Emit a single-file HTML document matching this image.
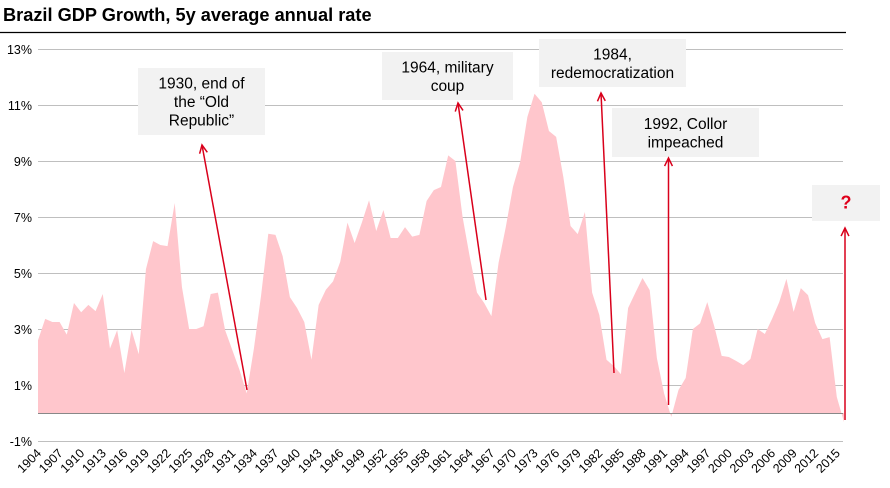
<!DOCTYPE html>
<html><head><meta charset="utf-8"><style>
html,body{margin:0;padding:0;background:#fff;}
svg{display:block;font-family:"Liberation Sans",Arial,sans-serif;}
</style></head><body>
<svg id="chart" width="890" height="488" viewBox="0 0 890 488">
<text x="3" y="21" font-size="18.2" font-weight="bold" fill="#000">Brazil GDP Growth, 5y average annual rate</text>
<line x1="0" y1="32.5" x2="846" y2="32.5" stroke="#000" stroke-width="1.3"/>
<g id="grid"></g>
<g id="yticks"></g>
<path id="area" fill="#ffc6cc"/>
<line id="zero" stroke="#888" stroke-width="1"/>
<g id="xticks"></g>
<g id="annots"></g>
</svg>
<script>
const years = [];
for (let y = 1904; y <= 2016; y++) years.push(y);
const growth = [2.6,3.36,3.25,3.25,2.8,3.93,3.6,3.86,3.64,4.25,
2.3,2.96,1.43,2.96,2.1,5.14,6.14,6.0,5.96,7.5,
4.5,3.0,3.0,3.1,4.25,4.3,2.96,2.25,1.54,0.7,
2.3,4.2,6.4,6.36,5.6,4.14,3.75,3.25,1.9,3.86,
4.4,4.7,5.4,6.8,6.07,6.8,7.6,6.5,7.25,6.25,
6.25,6.64,6.3,6.36,7.57,7.96,8.07,9.2,9.0,7.0,
5.57,4.3,3.93,3.46,5.36,6.64,8.07,8.96,10.57,11.4,
11.1,10.07,9.86,8.43,6.68,6.39,7.18,4.3,3.5,1.9,
1.68,1.39,3.75,4.29,4.82,4.39,1.96,0.7,-0.14,0.82,
1.25,3.0,3.2,3.96,3.07,2.04,2.0,1.86,1.71,1.93,
3.0,2.82,3.36,3.96,4.79,3.61,4.46,4.21,3.21,2.64,
2.71,0.57,-0.32];
const yTicks = [-1,1,3,5,7,9,11,13];
const yTickLabels = ["-1%","1%","3%","5%","7%","9%","11%","13%"];
const annotations = [
 {lines:["1930, end of","the \u201cOld","Republic\u201d"], box:[138,68,127,67], from:[247,390], to:[202,145], name:"annotation-1930"},
 {lines:["1964, military","coup"], box:[382,52,131,48], from:[486,300], to:[458,103], name:"annotation-1964"},
 {lines:["1984,","redemocratization"], box:[539,39,147,48], from:[614,373], to:[601,93], name:"annotation-1984"},
 {lines:["1992, Collor","impeached"], box:[612,108,147,49], from:[668.5,405], to:[668.5,158], name:"annotation-1992"},
 {lines:["?"], box:[812,185,68,36], from:[845,420], to:[845,228], name:"annotation-question", red:true}
];
const NS="http://www.w3.org/2000/svg";
const X0=38, X1=844, Y0=413, PX=28;
const xs = y => X0 + (y-1904)*(X1-X0)/(2016-1904);
const ys = v => Y0 - v*PX;
function mk(tag, attrs, parent){const e=document.createElementNS(NS,tag);for(const k in attrs)e.setAttribute(k,attrs[k]);parent.appendChild(e);return e;}
const grid=document.getElementById('grid'), yt=document.getElementById('yticks');
yTicks.forEach((t,i)=>{
  const l=mk('line',{x1:X0,x2:843,y1:ys(t)+0.5,y2:ys(t)+0.5,stroke:'#bfbfbf','stroke-width':1},grid);
  
  
  const tx=mk('text',{x:32,y:ys(t)+5,'text-anchor':'end','font-size':12.5,fill:'#000'},yt);
  
  
  tx.textContent=yTickLabels[i];
});
let d='M'+xs(years[0])+','+Y0;
years.forEach((y,i)=>{d+=' L'+xs(y).toFixed(2)+','+ys(growth[i]).toFixed(2);});
d+=' L'+xs(years[years.length-1])+','+Y0+' Z';
document.getElementById('area').setAttribute('d',d);
const z=document.getElementById('zero');
z.setAttribute('x1',X0);z.setAttribute('x2',843);z.setAttribute('y1',Y0+0.5);z.setAttribute('y2',Y0+0.5);
const xt=document.getElementById('xticks');
years.forEach(y=>{
  if((y-1904)%3!==0) return;
  const x=xs(y);
  const t=mk('text',{x:x+4,y:454,'text-anchor':'end','font-size':12.5,fill:'#000',transform:`rotate(-45 ${x+4} 454)`},xt);
  
  
  t.textContent=y;
});
const an=document.getElementById('annots');
annotations.forEach(a=>{
  const g=mk('g',{},an);
  
  
  const [bx,by,bw,bh]=a.box;
  mk('rect',{x:bx,y:by,width:bw,height:bh,fill:'#f2f2f2'},g);
  const n=a.lines.length, lh=18.5, cy=by+bh/2;
  a.lines.forEach((s,i)=>{
    const t=mk('text',{x:bx+bw/2,y:cy+(i-(n-1)/2)*lh+5.5,'text-anchor':'middle','font-size':a.red?18:15.5,'font-weight':a.red?'bold':'normal',fill:a.red?'#e0001b':'#000'},g);
    t.textContent=s;
  });
  const [x1,y1]=a.from,[x2,y2]=a.to;
  mk('line',{x1,y1,x2,y2,stroke:'#d9001b','stroke-width':1.5},g);
  const ang=Math.atan2(y1-y2,x1-x2), L=9, sp=0.45;
  const p1=[x2+L*Math.cos(ang+sp),y2+L*Math.sin(ang+sp)], p2=[x2+L*Math.cos(ang-sp),y2+L*Math.sin(ang-sp)];
  mk('polyline',{points:`${p1} ${x2},${y2} ${p2}`,fill:'none',stroke:'#d9001b','stroke-width':1.5},g);
});
</script>
</body></html>
